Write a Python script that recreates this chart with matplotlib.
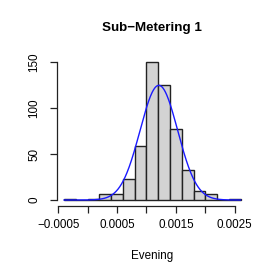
import numpy as np
import matplotlib
matplotlib.use("Agg")
import matplotlib.pyplot as plt

# Histogram data
bin_edges = [-0.0004, -0.0002, 0.0, 0.0002, 0.0004, 0.0006, 0.0008, 0.0010,
             0.0012, 0.0014, 0.0016, 0.0018, 0.0020, 0.0022, 0.0024, 0.0026]
counts = [1, 0, 1, 7, 7, 23, 59, 150, 125, 77, 33, 10, 6, 0, 1]

# Fitted normal curve parameters
fit_mean = 0.00121
fit_sd = 0.00032

x_ticks = [-0.0005, 0.0, 0.0005, 0.0010, 0.0015, 0.0020, 0.0025]
x_tick_labels = ["\u22120.0005", "", "0.0005", "", "0.0015", "", "0.0025"]
y_ticks = [0, 50, 100, 150]
y_tick_labels = ["0", "50", "100", "150"]

title = "Sub\u2212Metering 1"
xlabel = "Evening"

plt.rcParams['font.family'] = ['Liberation Sans', 'DejaVu Sans']

fig = plt.figure(figsize=(2.77, 2.77), dpi=100)
ax = fig.add_axes([0.2061, 0.258, 0.688, 0.538])

edges = np.array(bin_edges)
widths = np.diff(edges)
ax.bar(edges[:-1], counts, width=widths, align='edge', color='#D3D3D3',
       edgecolor='#222222', linewidth=1.0, zorder=2)

n_total = sum(counts)
bw = widths[0]
xs = np.linspace(edges[0], edges[-1], 400)
ys = n_total * bw * np.exp(-0.5 * ((xs - fit_mean) / fit_sd) ** 2) / (fit_sd * np.sqrt(2 * np.pi))
ax.plot(xs, ys, color='#1a1aff', linewidth=1.0, zorder=3)

lo, hi = edges[0], edges[-1]
pad = 0.04 * (hi - lo)
ax.set_xlim(lo - pad, hi + pad)
ax.set_ylim(-0.04 * 150, 150 * 1.04)

for s in ['top', 'right']:
    ax.spines[s].set_visible(False)
ax.spines['left'].set_bounds(0, 150)
ax.spines['bottom'].set_bounds(x_ticks[0], x_ticks[-1])
for s in ['left', 'bottom']:
    ax.spines[s].set_linewidth(0.9)
    ax.spines[s].set_color('#222222')

ax.set_xticks(x_ticks)
ax.set_xticklabels(x_tick_labels, fontsize=8.4)
ax.set_yticks(y_ticks)
ax.set_yticklabels(y_tick_labels, fontsize=8.4, rotation=90, va='center')
ax.tick_params(axis='both', length=5, width=0.9, color='#222222')
ax.tick_params(axis='x', pad=5)
ax.tick_params(axis='y', pad=7)

fig.text(0.5495, 1 - 28 / 277, title, fontsize=9.6, fontweight='bold',
         ha='center', va='center')
fig.text(0.5495, 1 - 256 / 277, xlabel, fontsize=8.4, ha='center', va='center')

fig.savefig("out.png", dpi=100)
